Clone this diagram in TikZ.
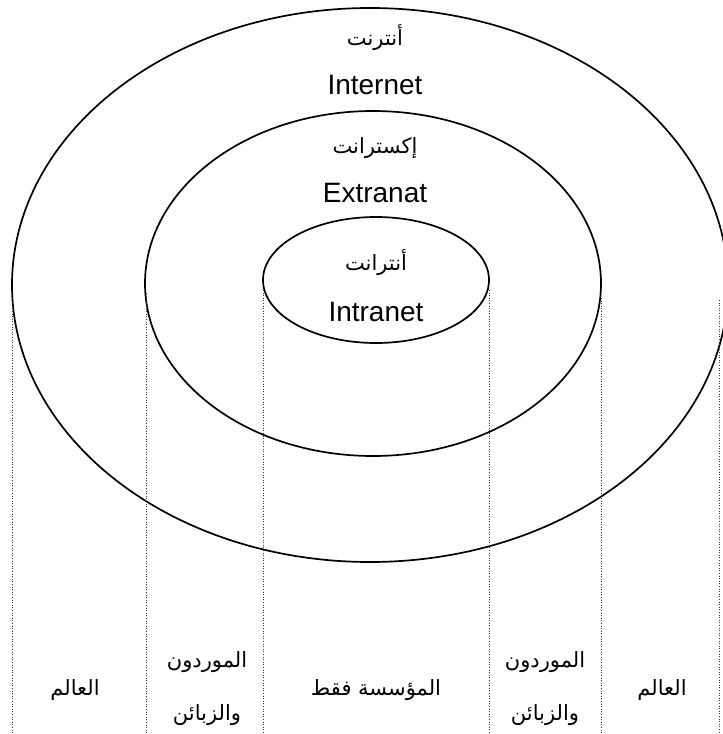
\documentclass[tikz,border=0pt]{standalone}
\usepackage{fontspec}
\setmainfont{Liberation Sans}
\newfontfamily\arabicfont[Script=Arabic]{DejaVu Sans}
\TeXXeTstate=1
\begin{document}
\begin{tikzpicture}[x=1pt,y=-1pt,
  ring/.style={draw=black,line width=1.7pt},
  sep/.style={draw=black!80,line width=1pt,dash pattern=on 1pt off 1.6pt},
  lat/.style={font=\fontsize{28}{30}\selectfont,inner sep=0pt},
  ara/.style={font=\arabicfont\fontsize{21}{24}\selectfont,inner sep=0pt,align=center}
]
\useasboundingbox (0,0) rectangle (723,734);
\clip (0,0) rectangle (723,734);
% rings
\draw[ring] (370,285) ellipse [x radius=358, y radius=277];
\draw[ring] (373,283.5) ellipse [x radius=228, y radius=172.5];
\draw[ring] (376,280) ellipse [x radius=113, y radius=63];
% labels in rings
\node[ara] (inetA) at (375,38) {\beginR أنترنت\endR};
\node[lat] (inet) at (375,85) {Internet};
\node[ara] (extA) at (375,148) {\beginR إكسترانت\endR};
\node[lat] (ext) at (375,193) {Extranat};
\node[ara] (intA) at (376,263) {\beginR أنترانت\endR};
\node[lat] (int) at (376,312) {Intranet};
% dotted separators
\coordinate (s1t) at (12.5,298); \coordinate (s1b) at (12.5,734);
\coordinate (s2t) at (146,293);  \coordinate (s2b) at (146,734);
\coordinate (s3t) at (263,290);  \coordinate (s3b) at (263,734);
\coordinate (s4t) at (489,290);  \coordinate (s4b) at (489,734);
\coordinate (s5t) at (601,298);  \coordinate (s5b) at (601,734);
\coordinate (s6t) at (719,300);  \coordinate (s6b) at (719,734);
\draw[sep] (s1t) -- (s1b);
\draw[sep] (s2t) -- (s2b);
\draw[sep] (s3t) -- (s3b);
\draw[sep] (s4t) -- (s4b);
\draw[sep] (s5t) -- (s5b);
\draw[sep] (s6t) -- (s6b);
% bottom labels
\node[ara] (w1) at (75,690) {\beginR العالم\endR};
\node[ara] (c1a) at (207,662) {\beginR الموردون\endR};
\node[ara] (c1b) at (207,715) {\beginR والزبائن\endR};
\node[ara] (org) at (376,690) {\beginR المؤسسة فقط\endR};
\node[ara] (c2a) at (545,662) {\beginR الموردون\endR};
\node[ara] (c2b) at (545,715) {\beginR والزبائن\endR};
\node[ara] (w2) at (662,690) {\beginR العالم\endR};
\end{tikzpicture}
\end{document}
